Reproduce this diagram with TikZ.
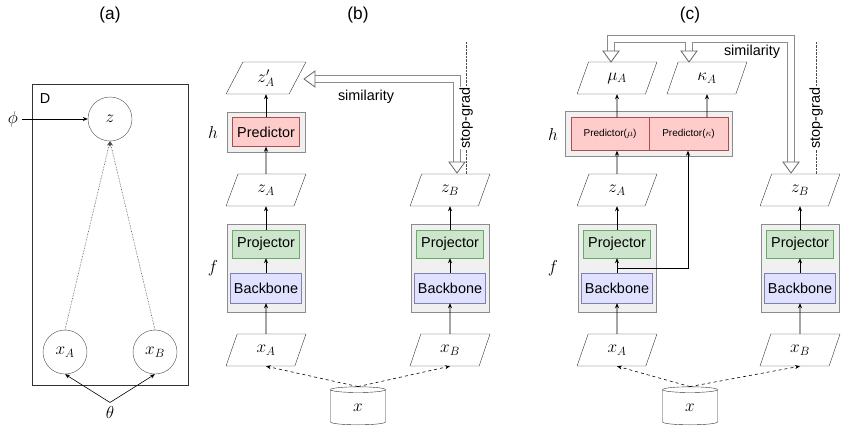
\documentclass[tikz,border=0pt]{standalone}
\usepackage{fontspec}
\setmainfont{Liberation Sans}
\usetikzlibrary{shapes.geometric,arrows.meta}
\begin{document}
\begin{tikzpicture}[x=1pt,y=-1pt,
 para/.style={draw=black!80,trapezium,trapezium left angle=70,trapezium right angle=110,trapezium stretches=true,minimum width=80pt,minimum height=32pt,inner sep=0pt,font=\LARGE},
 grp/.style={draw=black!45,fill=black!6,minimum width=78pt},
 pred/.style={draw=red!55!black!70,fill=red!20,minimum width=67pt,minimum height=29pt,font=\Large},
 proj/.style={draw=green!45!black!60,fill=green!50!black!20!white,minimum width=67pt,minimum height=28pt,font=\Large},
 back/.style={draw=blue!40!black!50,fill=blue!12,minimum width=67pt,minimum height=30pt,font=\Large},
 circ/.style={draw=black!70,circle,minimum size=44pt,inner sep=0pt,font=\LARGE},
 cyl/.style={draw=black!80,cylinder,shape border rotate=90,aspect=0.35,minimum width=55pt,minimum height=38pt,font=\LARGE},
 ar/.style={-{Stealth[length=5pt,width=4pt]},black,line width=0.6pt},
 dar/.style={ar,dashed},
 sim/.style={line width=8pt,black!45},
 simw/.style={line width=6pt,white},
 tipd/.style={draw=black!60,fill=white,line width=0.8pt}
]
\useasboundingbox (0,0) rectangle (845,437);
% (a)
\node (la) at (110,15) {\LARGE (a)};
\node[draw=black!80,minimum width=156pt,minimum height=301pt,anchor=north west] (plate) at (32,84) {};
\node (D) at (45,99) {\Large D};
\node[circ] (z) at (110,119) {$z$};
\node[circ] (xa) at (65,352) {$x_A$};
\node[circ] (xb) at (155,352) {$x_B$};
\node (phi) at (13,119) {\LARGE$\phi$};
\node (th) at (110,412) {\LARGE$\theta$};
\draw[ar] (phi) -- (z);
\draw[ar,densely dotted,black!70] (xa.north) -- (z.south);
\draw[ar,densely dotted,black!70] (xb.north) -- (z.south);
\draw[ar] (th.north) -- (xa.south);
\draw[ar] (th.north) -- (xb.south);
% (b)
\node (lb) at (358,15) {\LARGE (b)};
\node[grp,minimum height=40pt] (hb) at (266,132) {};
\node[pred] (predb) at (266,132) {Predictor};
\node[grp,minimum height=88pt] (fb) at (266,268) {};
\node[proj] (projb) at (266,244) {Projector};
\node[back] (backb) at (266,288) {Backbone};
\node[grp,minimum height=88pt] (fb2) at (450,268) {};
\node[proj] (projb2) at (450,244) {Projector};
\node[back] (backb2) at (450,288) {Backbone};
\node[para] (zpb) at (266,78) {$z'_A$};
\node[para] (zab) at (266,190) {$z_A$};
\node[para] (zbb) at (450,190) {$z_B$};
\node[para] (xab) at (266,350) {$x_A$};
\node[para] (xbb) at (450,350) {$x_B$};
\node[cyl] (cb) at (358,408) {$x$};
\node (hlb) at (213,132) {\LARGE$h$};
\node (flb) at (213,268) {\LARGE$f$};
\draw[ar] (zab) -- (predb);
\draw[ar] (predb) -- (zpb);
\draw[ar] (projb) -- (zab);
\draw[ar] (backb) -- (projb);
\draw[ar] (xab) -- (backb);
\draw[ar] (projb2) -- (zbb);
\draw[ar] (backb2) -- (projb2);
\draw[ar] (xbb) -- (backb2);
\draw[dar] (cb.north) -- (xab.south);
\draw[dar] (cb.north) -- (xbb.south);
\coordinate (sb1) at (457,79);
\draw[sim] (457,163) -- (sb1) -- (313,79);
\draw[simw] (457,164) -- (sb1) -- (312,79);
\draw[tipd] (457,173) -- (449,162) -- (465,162) -- cycle;
\draw[tipd] (304,79) -- (315,71) -- (315,87) -- cycle;
\node (simb) at (366,97) {\Large similarity};
\draw[densely dotted,black!70] (zbb.north east) -- (zbb.north east |- 0,42);
\node[rotate=90,fill=white,inner sep=1pt] (sgb) at (zbb.north east |- 0,118) {\Large stop-grad};
% (c)
\node (lc) at (690,15) {\LARGE (c)};
\node[grp,minimum width=167pt,minimum height=45pt] (hc) at (649,134) {};
\node[pred,minimum width=78pt,minimum height=33pt,font=\normalsize\rmfamily] (pmu) at (610,134) {Predictor($\mu$)};
\node[pred,minimum width=79pt,minimum height=33pt,font=\normalsize\rmfamily] (pka) at (688.5,134) {Predictor($\kappa$)};
\node[grp,minimum height=88pt] (fc) at (617,268) {};
\node[proj] (projc) at (617,244) {Projector};
\node[back] (backc) at (617,288) {Backbone};
\node[grp,minimum height=88pt] (fc2) at (800,268) {};
\node[proj] (projc2) at (800,244) {Projector};
\node[back] (backc2) at (800,288) {Backbone};
\node[para] (muc) at (617,78) {$\mu_A$};
\node[para] (kac) at (707,78) {$\kappa_A$};
\node[para] (zac) at (617,190) {$z_A$};
\node[para] (zbc) at (800,190) {$z_B$};
\node[para] (xac) at (617,350) {$x_A$};
\node[para] (xbc) at (800,350) {$x_B$};
\node[cyl] (cc) at (690,408) {$x$};
\node (hlc) at (553,134) {\LARGE$h$};
\node (flc) at (553,268) {\LARGE$f$};
\draw[ar] (zac) -- (pmu.south -| zac);
\draw[ar] (pmu.north -| muc) -- (muc);
\draw[ar] (pka.north -| kac) -- (kac);
\draw[ar] (projc) -- (zac);
\draw[ar] (backc) -- (projc);
\draw[ar] (xac) -- (backc);
\draw[ar] (projc2) -- (zbc);
\draw[ar] (backc2) -- (projc2);
\draw[ar] (xbc) -- (backc2);
\coordinate (ks) at (617,268);
\coordinate (kj) at (688,268);
\draw[ar] (ks) -- (kj) -- (pka.south -| kj);
\draw[dar] (cc.north) -- (xac.south);
\draw[dar] (cc.north) -- (xbc.south);
\draw[sim] (791,163) -- (791,39) -- (611,39) -- (611,53);
\draw[sim] (689,39) -- (689,53);
\draw[simw] (791,164) -- (791,39) -- (611,39) -- (611,54);
\draw[simw] (689,39) -- (689,54);
\draw[tipd] (791,173) -- (783,162) -- (799,162) -- cycle;
\draw[tipd] (611,62) -- (603,51) -- (619,51) -- cycle;
\draw[tipd] (689,62) -- (681,51) -- (697,51) -- cycle;
\node (simc) at (752,52) {\Large similarity};
\draw[densely dotted,black!70] (zbc.north east) -- (zbc.north east |- 0,42);
\node[rotate=90,fill=white,inner sep=1pt] (sgc) at (zbc.north east |- 0,118) {\Large stop-grad};
\end{tikzpicture}
\end{document}
